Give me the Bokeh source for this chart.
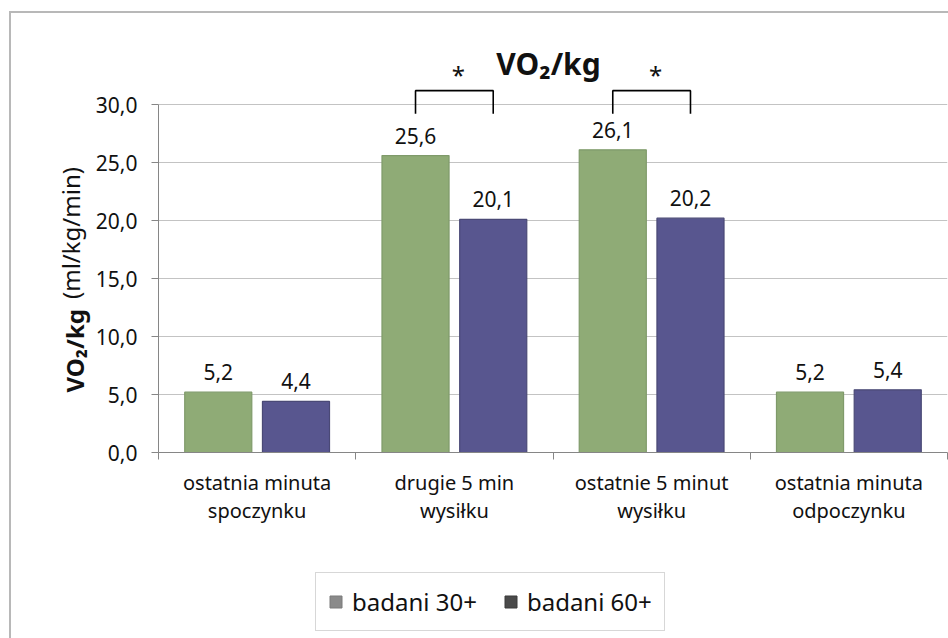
from bokeh.plotting import figure
from bokeh.layouts import column
from bokeh.models import (Range1d, FixedTicker, CustomJSTickFormatter, Label, Title,
                          Legend, LegendItem, ColumnDataSource, LinearAxis)
from bokeh.core.properties import value
from bokeh.embed import file_html
from bokeh.resources import INLINE

# ---------------- data ----------------
categories = ["ostatnia minuta\nspoczynku", "drugie 5 min\nwysiłku",
              "ostatnie 5 minut\nwysiłku", "ostatnia minuta\nodpoczynku"]
series_names = ["badani 30+", "badani 60+"]
values_30 = [5.2, 25.6, 26.1, 5.2]
values_60 = [4.4, 20.1, 20.2, 5.4]
y_ticks = [0, 5, 10, 15, 20, 25, 30]
significant_groups = [1, 2]          # groups marked with "*"
bracket_low, bracket_high, star_level = 29.2, 31.2, 32.6

# ---------------- styling ----------------
FONT = "Noto Sans"
GREEN, GREEN_EDGE = "#8fab76", "#7f9a6a"
BLUE, BLUE_EDGE = "#58568f", "#4a4976"
AXIS_GREY = "#868686"
GRID_GREY = "#c3c3c3"
TXT = "#111111"
OFF = 0.197
BAR_W = 0.34

n = len(categories)
centers = [i + 0.5 for i in range(n)]

p = figure(width=937, height=547, output_backend="svg", toolbar_location=None,
           x_range=Range1d(0, n), y_range=Range1d(0, 37.85),
           min_border_left=147, min_border_right=1, min_border_top=0,
           min_border_bottom=108, title=None)
p.outline_line_color = None
p.background_fill_color = "white"
p.border_fill_color = "white"

# bars
src30 = ColumnDataSource(dict(x=[c - OFF for c in centers], top=values_30,
                              lab=[f"{v:.1f}".replace(".", ",") for v in values_30]))
src60 = ColumnDataSource(dict(x=[c + OFF for c in centers], top=values_60,
                              lab=[f"{v:.1f}".replace(".", ",") for v in values_60]))
p.vbar(x="x", top="top", width=BAR_W, source=src30, fill_color=GREEN,
       line_color=GREEN_EDGE, line_width=1.2)
p.vbar(x="x", top="top", width=BAR_W, source=src60, fill_color=BLUE,
       line_color=BLUE_EDGE, line_width=1.2)

for s in (src30, src60):
    p.text(x="x", y="top", text="lab", source=s, text_align="center",
           text_baseline="middle", y_offset=-20, text_font=value(FONT),
           text_font_size="21px", text_color=TXT)

# significance brackets
xs, ys = [], []
for g in significant_groups:
    c = centers[g]
    xs.append([c - OFF, c - OFF, c + OFF, c + OFF])
    ys.append([bracket_low, bracket_high, bracket_high, bracket_low])
p.multi_line(xs=xs, ys=ys, line_color="black", line_width=1.6)
p.text(x=[centers[g] + 0.02 for g in significant_groups],
       y=[star_level] * len(significant_groups), text=["*"] * len(significant_groups),
       text_align="center", text_baseline="middle", text_font=value(FONT),
       text_font_size="24px", text_color=TXT)

# axes
p.xgrid.visible = False
p.ygrid.grid_line_color = GRID_GREY
p.ygrid.ticker = FixedTicker(ticks=y_ticks)

p.yaxis.ticker = FixedTicker(ticks=y_ticks)
p.yaxis.bounds = (0, 30)
p.yaxis.formatter = CustomJSTickFormatter(code="return tick.toFixed(1).replace('.', ',');")
p.yaxis.axis_line_color = AXIS_GREY
p.yaxis.major_tick_line_color = AXIS_GREY
p.yaxis.major_tick_out = 7
p.yaxis.major_tick_in = 0
p.yaxis.minor_tick_line_color = None
p.yaxis.major_label_standoff = 14
p.yaxis.major_label_text_font = FONT
p.yaxis.major_label_text_font_size = "21px"
p.yaxis.major_label_text_color = TXT

# y-axis title: bold part as a side title (bottom-aligned, shifted up),
# normal part as the label of a bare extra axis pulled into the same column
p.add_layout(Title(text="VO₂/kg", align="left", offset=60, standoff=4,
                   text_font=FONT, text_font_size="24px", text_font_style="bold",
                   text_color=TXT), "left")
p.add_layout(LinearAxis(ticker=FixedTicker(ticks=[]),
                        axis_line_color=None, major_tick_line_color=None,
                        minor_tick_line_color=None, major_tick_out=0, major_tick_in=0,
                        minor_tick_out=0, minor_tick_in=0, major_label_standoff=0,
                        axis_label="(ml/kg/min)", axis_label_standoff=-33,
                        axis_label_text_font=FONT, axis_label_text_font_size="24px",
                        axis_label_text_font_style="normal", axis_label_text_color=TXT),
             "left")

p.xaxis.ticker = FixedTicker(ticks=centers, minor_ticks=list(range(n + 1)))
p.xaxis.major_label_overrides = {c: lab for c, lab in zip(centers, categories)}
p.xaxis.axis_line_color = AXIS_GREY
p.xaxis.major_tick_line_color = None
p.xaxis.major_tick_out = 0
p.xaxis.major_tick_in = 0
p.xaxis.minor_tick_line_color = AXIS_GREY
p.xaxis.minor_tick_out = 7
p.xaxis.minor_tick_in = 0
p.xaxis.major_label_standoff = 9
p.xaxis.major_label_text_font = FONT
p.xaxis.major_label_text_font_size = "20px"
p.xaxis.major_label_text_line_height = 1.05
p.xaxis.major_label_text_color = TXT

# chart title (inside the frame, screen units from frame bottom-left)
p.add_layout(Label(x=390, y=389, x_units="screen", y_units="screen", text="VO₂/kg",
                   text_align="center", text_baseline="alphabetic",
                   text_font=FONT, text_font_size="30px", text_font_style="bold",
                   text_color=TXT))

# legend strip (grey swatches as in the reference); its proxy bars lie
# outside the strip's y range, so only the legend is visible
lf = figure(width=937, height=78, output_backend="svg", toolbar_location=None,
            x_range=Range1d(0, n), y_range=Range1d(100, 101),
            x_axis_location=None, y_axis_location=None, min_border=0, title=None)
lf.outline_line_color = None
lf.grid.visible = False
r1 = lf.vbar(x="x", top="top", width=BAR_W, source=src30,
             fill_color="#8a8a8a", line_color="#7a7a7a")
r2 = lf.vbar(x="x", top="top", width=BAR_W, source=src60,
             fill_color="#4a4a4a", line_color="#3a3a3a")
legend = Legend(items=[LegendItem(label=series_names[0], renderers=[r1]),
                       LegendItem(label=series_names[1], renderers=[r2])],
                orientation="horizontal", location=(157, 7),
                glyph_width=15, glyph_height=15, label_standoff=9, spacing=26,
                padding=12, margin=0, border_line_color="#b0b0b0", border_line_width=1,
                label_text_font=FONT, label_text_font_size="24px", label_text_color=TXT,
                background_fill_alpha=1)
lf.add_layout(legend, "center")

layout = column(p, lf, spacing=0,
                styles={"margin-left": "9px", "margin-top": "11px",
                        "border-left": "2px solid #b8b8b8", "border-top": "2px solid #b8b8b8"})

open("out.html", "w").write(file_html(layout, INLINE))
